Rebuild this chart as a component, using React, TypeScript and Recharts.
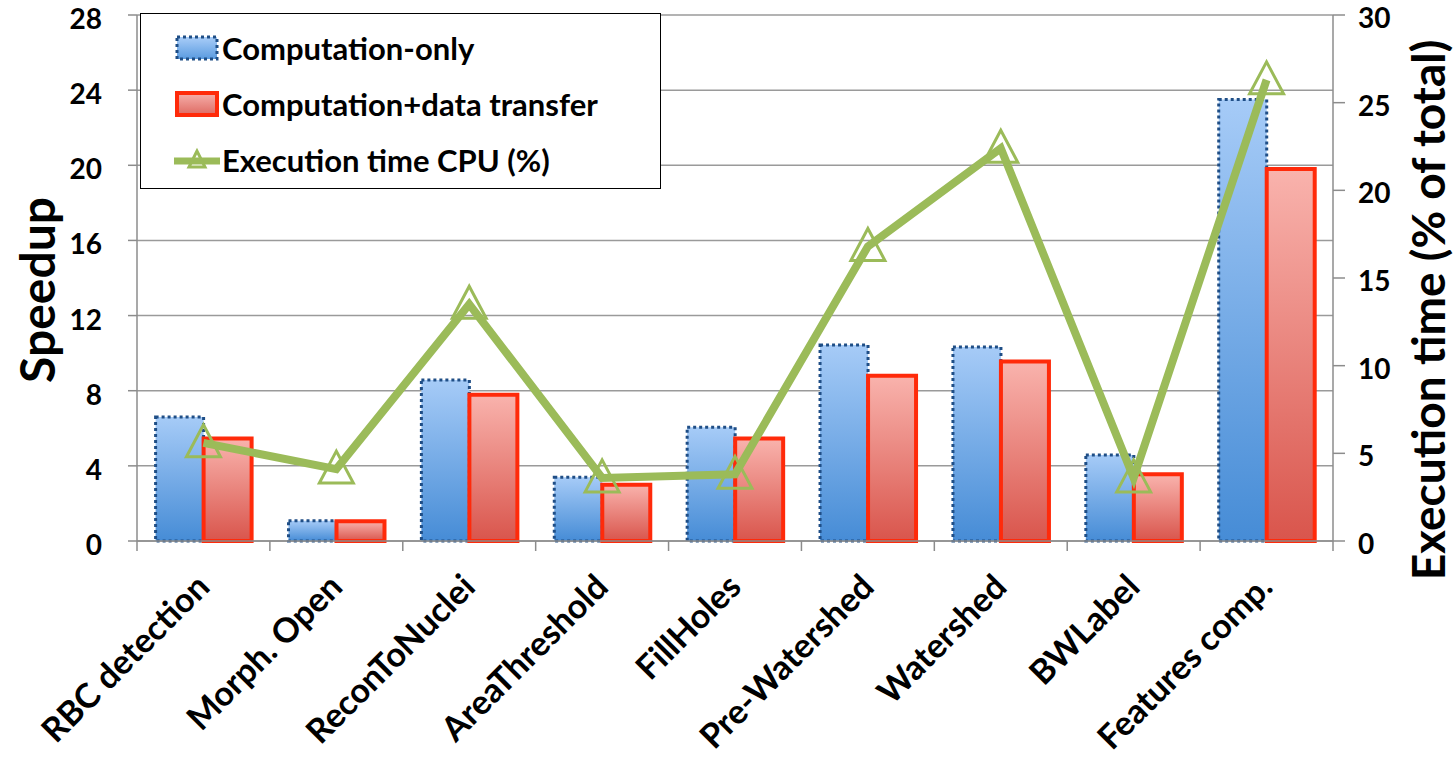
import React from "react";
import {
  Bar,
  CartesianGrid,
  ComposedChart,
  Legend,
  Line,
  XAxis,
  YAxis,
} from "recharts";

const categories = [
  "RBC detection",
  "Morph. Open",
  "ReconToNuclei",
  "AreaThreshold",
  "FillHoles",
  "Pre-Watershed",
  "Watershed",
  "BWLabel",
  "Features comp.",
];
const computationOnly = [6.6, 1.08, 8.57, 3.4, 6.05, 10.43, 10.33, 4.58, 23.5];
const computationTransfer = [5.45, 1.05, 7.78, 3.0, 5.45, 8.8, 9.55, 3.55, 19.8];
const cpuTime = [5.6, 4.1, 13.5, 3.6, 3.8, 16.8, 22.4, 3.6, 26.3];

const speedupTicks = [0, 4, 8, 12, 16, 20, 24, 28];
const percentTicks = [0, 5, 10, 15, 20, 25, 30];

const seriesNames = [
  "Computation-only",
  "Computation+data transfer",
  "Execution time CPU (%)",
];

const data = categories.map((name, i) => ({
  name,
  compOnly: computationOnly[i],
  compTransfer: computationTransfer[i],
  cpu: cpuTime[i],
}));

const FONT = "Lato, 'Open Sans', sans-serif";
const GREY = "#8c8c8c";
const GREEN = "#9bbb59";

const PLOT_LEFT = 137;
const PLOT_RIGHT = 1333;
const BAND = (PLOT_RIGHT - PLOT_LEFT) / categories.length;

const CategoryTick = (props: any) => {
  const { x, y, payload, index } = props;
  const half = BAND / 2;
  const tx = x + 8;
  const ty = y + 48;
  return (
    <g>
      <line x1={x - half} x2={x - half} y1={y} y2={y + 10} stroke={GREY} strokeWidth={1.5} />
      {index === categories.length - 1 && (
        <line x1={x + half} x2={x + half} y1={y} y2={y + 10} stroke={GREY} strokeWidth={1.5} />
      )}
      <text
        x={tx}
        y={ty}
        transform={`rotate(-45 ${tx} ${ty})`}
        textAnchor="end"
        fontFamily={FONT}
        fontWeight={700}
        fontSize={34}
        fill="#000"
      >
        {payload.value}
      </text>
    </g>
  );
};

const Triangle = (props: any) => {
  const { cx, cy, index } = props;
  if (cx == null || cy == null) return null;
  return (
    <polygon
      key={index}
      points={`${cx},${cy - 18} ${cx - 17},${cy + 14} ${cx + 17},${cy + 14}`}
      fill="none"
      stroke={GREEN}
      strokeWidth={3}
    />
  );
};

const verticalTitle = (text: string, dx: number, dy: number, size: number) => (props: any) => {
  const vb = props.viewBox || {};
  const x = vb.x + dx;
  const y = vb.y + vb.height / 2 + dy;
  return (
    <text
      x={x}
      y={y}
      transform={`rotate(-90 ${x} ${y})`}
      textAnchor="middle"
      dominantBaseline="central"
      fontFamily={FONT}
      fontWeight={700}
      fontSize={size}
      fill="#000"
    >
      {text}
    </text>
  );
};

const LegendBox = () => {
  const rowStyle: React.CSSProperties = {
    display: "flex",
    alignItems: "center",
    height: 56,
  };
  const textStyle: React.CSSProperties = {
    fontFamily: FONT,
    fontWeight: 700,
    fontSize: 31,
    color: "#000",
    marginLeft: 2,
    whiteSpace: "nowrap",
  };
  return (
    <div
      style={{
        boxSizing: "border-box",
        width: 521,
        height: 176,
        border: "1px solid #000",
        background: "#fff",
        paddingTop: 6,
        paddingLeft: 33,
      }}
    >
      <div style={rowStyle}>
        <svg width={46} height={30}>
          <defs>
            <linearGradient id="legBlue" x1="0" y1="0" x2="0" y2="1">
              <stop offset="0%" stopColor="#a9cdf8" />
              <stop offset="100%" stopColor="#5a9be0" />
            </linearGradient>
          </defs>
          <rect x={3} y={4} width={40} height={22} fill="url(#legBlue)" stroke="#1f4e86" strokeWidth={3} strokeDasharray="3 3" />
        </svg>
        <span style={textStyle}>{seriesNames[0]}</span>
      </div>
      <div style={rowStyle}>
        <svg width={46} height={30}>
          <defs>
            <linearGradient id="legRed" x1="0" y1="0" x2="0" y2="1">
              <stop offset="0%" stopColor="#f6b0ab" />
              <stop offset="100%" stopColor="#de6a62" />
            </linearGradient>
          </defs>
          <rect x={3} y={4} width={40} height={22} fill="url(#legRed)" stroke="#ff2a0a" strokeWidth={4} />
        </svg>
        <span style={textStyle}>{seriesNames[1]}</span>
      </div>
      <div style={rowStyle}>
        <svg width={46} height={30}>
          <line x1={1} x2={45} y1={16} y2={16} stroke={GREEN} strokeWidth={7} strokeLinecap="round" />
          <polygon points="23,6 15,22 31,22" fill="none" stroke={GREEN} strokeWidth={3} />
        </svg>
        <span style={textStyle}>{seriesNames[2]}</span>
      </div>
    </div>
  );
};

export default function App() {
  return (
    <div style={{ position: "absolute", left: 0, top: 0, background: "#fff" }}>
      <ComposedChart
        width={1455}
        height={759}
        data={data}
        margin={{ top: 15, right: 22, bottom: 0, left: 37 }}
        barCategoryGap="14%"
        barGap={0}
      >
        <defs>
          <linearGradient id="barBlue" x1="0" y1="0" x2="0" y2="1">
            <stop offset="0%" stopColor="#a6cbf7" />
            <stop offset="100%" stopColor="#468cd6" />
          </linearGradient>
          <linearGradient id="barRed" x1="0" y1="0" x2="0" y2="1">
            <stop offset="0%" stopColor="#f9b3ad" />
            <stop offset="100%" stopColor="#d9554c" />
          </linearGradient>
        </defs>
        <CartesianGrid yAxisId="left" vertical={false} stroke="#9a9a9a" strokeWidth={1.5} />
        <XAxis
          dataKey="name"
          interval={0}
          height={218}
          tickLine={false}
          tickSize={0}
          tickMargin={0}
          axisLine={{ stroke: GREY, strokeWidth: 1.5 }}
          tick={<CategoryTick />}
        />
        <YAxis
          yAxisId="left"
          width={100}
          domain={[0, 28]}
          ticks={speedupTicks}
          interval={0}
          tickSize={9}
          tickMargin={26}
          axisLine={{ stroke: GREY, strokeWidth: 1.5 }}
          tickLine={{ stroke: GREY, strokeWidth: 1.5 }}
          tick={{ fill: "#000", fontFamily: FONT, fontWeight: 700, fontSize: 28, dy: 4 }}
          label={verticalTitle("Speedup", -1, 12, 48)}
        />
        <YAxis
          yAxisId="right"
          orientation="right"
          width={100}
          domain={[0, 30]}
          ticks={percentTicks}
          interval={0}
          tickSize={12}
          tickMargin={13}
          axisLine={{ stroke: GREY, strokeWidth: 1.5 }}
          tickLine={{ stroke: GREY, strokeWidth: 1.5 }}
          tick={{ fill: "#000", fontFamily: FONT, fontWeight: 700, fontSize: 28, textAnchor: "start", dy: 3 }}
          label={verticalTitle("Execution time (% of total)", 94, 32, 46)}
        />
        <Bar
          yAxisId="left"
          dataKey="compOnly"
          name={seriesNames[0]}
          fill="url(#barBlue)"
          stroke="#1f4e86"
          strokeWidth={3}
          strokeDasharray="3 3"
          isAnimationActive={false}
        />
        <Bar
          yAxisId="left"
          dataKey="compTransfer"
          name={seriesNames[1]}
          fill="url(#barRed)"
          stroke="#ff2a0a"
          strokeWidth={4}
          isAnimationActive={false}
        />
        <Line
          yAxisId="right"
          dataKey="cpu"
          stroke="none"
          dot={<Triangle />}
          activeDot={false}
          legendType="none"
          isAnimationActive={false}
        />
        <Line
          yAxisId="right"
          dataKey="cpu"
          name={seriesNames[2]}
          stroke={GREEN}
          strokeWidth={8}
          strokeLinejoin="miter"
          dot={false}
          activeDot={false}
          isAnimationActive={false}
        />
        <Legend
          layout="horizontal"
          verticalAlign="middle"
          align="center"
          width={521}
          wrapperStyle={{ left: 140, top: 13, width: 521, height: 176 }}
          content={<LegendBox />}
        />
      </ComposedChart>
    </div>
  );
}
